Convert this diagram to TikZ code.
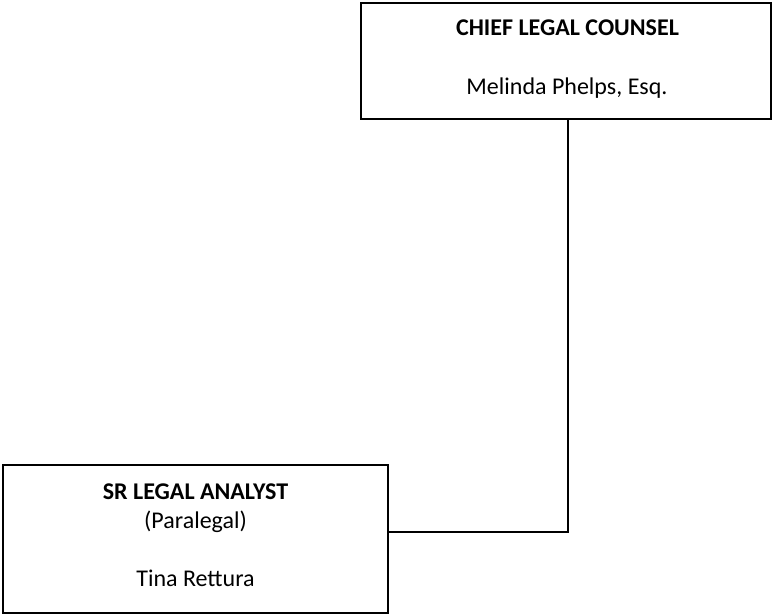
\documentclass[tikz,border=0pt]{standalone}
\usepackage{fontspec}
\setmainfont{Carlito}
\begin{document}
\begin{tikzpicture}[x=1pt,y=-1pt,
  box/.style={draw=black,line width=1.5pt,minimum width=#1,inner sep=0pt},
  txt/.style={inner sep=0pt,font=\fontsize{24}{28}\selectfont},
  btxt/.style={inner sep=0pt,font=\fontsize{24}{28}\selectfont\bfseries},
  conn/.style={draw=black,line width=2pt}]
\useasboundingbox (0,0) rectangle (773,615);
\node[box=410pt,minimum height=116pt] (top) at (566,61) {};
\node[box=385pt,minimum height=148pt] (bot) at (195.5,539) {};
\node[btxt] (t1) at (567.5,28) {CHIEF LEGAL COUNSEL};
\node[txt] (t2) at (567,88) {Melinda Phelps, Esq.};
\node[btxt] (b1) at (195.5,492) {SR LEGAL ANALYST};
\node[txt] (b2) at (195.5,522) {(Paralegal)};
\node[txt] (b3) at (195.5,578) {Tina Rettura};
\coordinate (j) at (568,532);
\draw[conn] (top.south -| j) -- (j) -- (bot.east |- j);
\end{tikzpicture}
\end{document}
